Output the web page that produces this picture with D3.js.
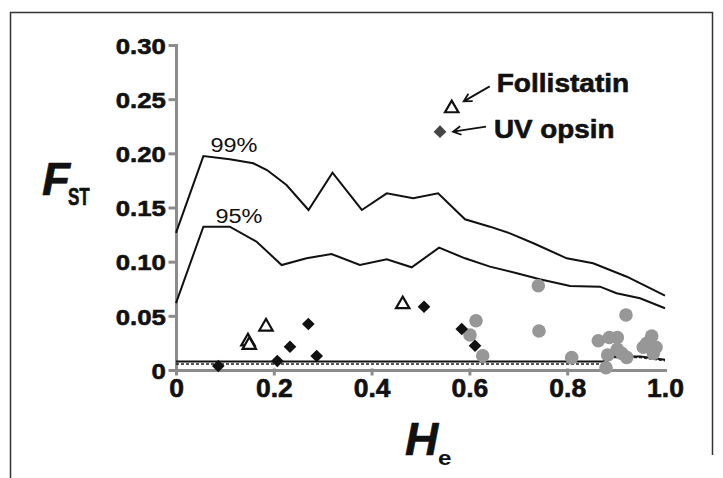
<!DOCTYPE html>
<html lang="en">
<head>
<meta charset="UTF-8">
<title>FST vs He</title>
<script src="https://d3js.org/d3.v7.min.js"></script>
<style>
  body { margin: 0; background: #fff; }
  text { font-family: "Liberation Sans", Arial, sans-serif; fill: #111; }
  .heavy { stroke: #111; stroke-width: 0.6px; }
</style>
</head>
<body>
<div id="chart"></div>
<script>
// ---- data: [He, FST] ----
// simulated upper envelopes
var env99 = [[0,0.1265],[0.056,0.1975],[0.110,0.1945],[0.158,0.1908],[0.186,0.1846],[0.226,0.1708],
    [0.271,0.1477],[0.320,0.1821],[0.380,0.1477],[0.431,0.1631],[0.485,0.1585],[0.536,0.1631],
    [0.591,0.1391],[0.642,0.1323],[0.683,0.1261],[0.731,0.1170],[0.799,0.1031],[0.853,0.0985],
    [0.922,0.0861],[1.0,0.0686]];
var env95 = [[0,0.0618],[0.056,0.1323],[0.110,0.1323],[0.165,0.1184],[0.216,0.0969],[0.267,0.1031],
    [0.318,0.1071],[0.376,0.0969],[0.431,0.1022],[0.482,0.0948],[0.538,0.1129],[0.591,0.1031],
    [0.642,0.0954],[0.697,0.0893],[0.744,0.0837],[0.806,0.0775],[0.867,0.0769],[0.901,0.0708],
    [0.949,0.0662],[1.0,0.0570]];
// lower envelopes
var envLowA = [[0,0.0078],[0.873,0.0078],[0.892,0.0125],[0.950,0.0125],[1.0,0.0095]];
var envLowB = [[0,0.0055],[0.873,0.0055],[0.892,0.0115],[0.950,0.0115],[1.0,0.0085]];

// loci
var diamonds = [[0.0865,0.0037],[0.2072,0.0083],[0.2331,0.0215],[0.2706,0.0425],[0.2877,0.0129],
    [0.5072,0.0584],[0.5843,0.0378],[0.6115,0.0224]];
var triangles = [[0.1472,0.0263],[0.1499,0.0231],[0.184,0.040],[0.4636,0.0606]];
var circles = [[0.6135,0.0455],[0.6012,0.0323],[0.6272,0.0132],[0.7409,0.0778],[0.7423,0.036],
    [0.8092,0.0114],[0.9202,0.0508],[0.8636,0.027],[0.8861,0.030],[0.9025,0.030],[0.8793,0.0021],
    [0.8828,0.0138],[0.9025,0.0191],[0.9115,0.0154],[0.9217,0.0117],[0.9728,0.0314],[0.9556,0.021],
    [0.9626,0.0246],[0.9816,0.021],[0.9761,0.0154]];
var uvOpsin = [0.5399,0.220];
var follistatin = [0.5638,0.2415];

var xTicks = [0,0.2,0.4,0.6,0.8,1.0];
var xTickLabels = ["0","0.2","0.4","0.6","0.8","1.0"];
var yTicks = [0,0.05,0.10,0.15,0.20,0.25,0.30];
var yTickLabels = ["0","0.05","0.10","0.15","0.20","0.25","0.30"];

// ---- layout ----
var W = 723, H = 478;
var svg = d3.select("#chart").append("svg")
    .attr("width", W).attr("height", H);

// frame
svg.append("path")
    .attr("d", "M10.5,478V12.5H712.5V455")
    .attr("fill", "none").attr("stroke", "#333").attr("stroke-width", 1.5);

var x = d3.scaleLinear().domain([0, 1]).range([176, 665]);
var y = d3.scaleLinear().domain([0, 0.30]).range([370, 45]);

var axisGrey = "#8c8c8c";

// y axis
var gy = svg.append("g")
    .attr("transform", "translate(176,0)")
    .call(d3.axisLeft(y).tickValues(yTicks).tickSize(6).tickSizeOuter(0)
        .tickFormat(function(d, i) { return yTickLabels[i]; }));
gy.selectAll("text")
    .attr("x", -9).attr("dy", "0.36em")
    .attr("transform", "scale(1.12,1)")
    .attr("class", "heavy")
    .style("font-size", "23px").style("font-weight", "bold");

// x axis
var gx = svg.append("g")
    .attr("transform", "translate(0,370)")
    .call(d3.axisBottom(x).tickValues(xTicks).tickSize(4).tickSizeOuter(0)
        .tickFormat(function(d, i) { return xTickLabels[i]; }));
gx.selectAll("text")
    .attr("y", 27).attr("dy", 0)
    .attr("transform", "scale(1.06,1)")
    .attr("class", "heavy")
    .style("font-size", "25px").style("font-weight", "bold");
gx.selectAll(".tick line").filter(function(d) { return d === 1; }).remove();

svg.selectAll(".domain, .tick line")
    .attr("stroke", axisGrey).attr("stroke-width", 3).attr("stroke-linecap", "square");
svg.selectAll(".tick text").attr("fill", "#111");

// envelope lines
var line = d3.line()
    .x(function(d) { return x(d[0]); })
    .y(function(d) { return y(d[1]); });

[env99, env95, envLowA].forEach(function(d) {
    svg.append("path").datum(d)
        .attr("fill", "none").attr("stroke", "#111").attr("stroke-width", 2)
        .attr("d", line);
});
svg.append("path").datum(envLowB)
    .attr("fill", "none").attr("stroke", "#222").attr("stroke-width", 1.5)
    .attr("stroke-dasharray", "3,2")
    .attr("d", line);

// gray circles
svg.selectAll(".circ").data(circles).enter().append("circle")
    .attr("cx", function(d) { return x(d[0]); })
    .attr("cy", function(d) { return y(d[1]); })
    .attr("r", 6.8)
    .attr("fill", "#979797");

// diamonds
var diamond = d3.symbol().type(d3.symbolSquare).size(80);
svg.selectAll(".dia").data(diamonds).enter().append("path")
    .attr("d", diamond)
    .attr("transform", function(d) { return "translate(" + x(d[0]) + "," + y(d[1]) + ") rotate(45)"; })
    .attr("fill", "#111");
svg.append("path")
    .attr("d", diamond)
    .attr("transform", "translate(" + x(uvOpsin[0]) + "," + y(uvOpsin[1]) + ") rotate(45)")
    .attr("fill", "#444");

// open triangles
var tri = d3.symbol().type(d3.symbolTriangle).size(78);
svg.selectAll(".tri").data(triangles.concat([follistatin])).enter().append("path")
    .attr("d", tri)
    .attr("transform", function(d) { return "translate(" + x(d[0]) + "," + y(d[1]) + ")"; })
    .attr("fill", "#fff").attr("stroke", "#111").attr("stroke-width", 2.2);

// percentile labels
svg.append("text")
    .attr("transform", "translate(" + (x(env99[1][0]) + 7) + "," + (y(env99[1][1]) - 4) + ") scale(1.12,1)")
    .style("font-size", "21px")
    .text("99%");
svg.append("text")
    .attr("transform", "translate(" + (x(env95[1][0]) + 12) + "," + (y(env95[1][1]) - 4) + ") scale(1.12,1)")
    .style("font-size", "21px")
    .text("95%");

// gene callouts
function arrow(x1, y1, x2, y2) {
    var a = Math.atan2(y2 - y1, x2 - x1), L = 9, s = 0.5;
    var p = "M" + x1 + "," + y1 + "L" + x2 + "," + y2 +
        "M" + (x2 - L * Math.cos(a - s)) + "," + (y2 - L * Math.sin(a - s)) +
        "L" + x2 + "," + y2 +
        "L" + (x2 - L * Math.cos(a + s)) + "," + (y2 - L * Math.sin(a + s));
    svg.append("path").attr("d", p)
        .attr("fill", "none").attr("stroke", "#111").attr("stroke-width", 1.8);
}
var fx = x(follistatin[0]), fy = y(follistatin[1]);
arrow(fx + 38, fy - 22, fx + 12, fy - 7);
svg.append("text")
    .attr("transform", "translate(" + (fx + 45) + "," + (fy - 16.5) + ") scale(1.08,1)")
    .attr("class", "heavy")
    .style("font-size", "26px").style("font-weight", "bold")
    .text("Follistatin");

var ux = x(uvOpsin[0]), uy = y(uvOpsin[1]);
arrow(ux + 46, uy - 5, ux + 13, uy);
svg.append("text")
    .attr("transform", "translate(" + (ux + 54) + "," + (uy + 6) + ") scale(1.07,1)")
    .attr("class", "heavy")
    .style("font-size", "26px").style("font-weight", "bold")
    .text("UV opsin");

// axis titles
svg.append("text").attr("x", 42).attr("y", 195)
    .attr("class", "heavy")
    .style("font-size", "46px").style("font-weight", "bold").style("font-style", "italic")
    .text("F");
svg.append("text")
    .attr("transform", "translate(68,205) scale(0.74,1)")
    .attr("class", "heavy")
    .style("font-size", "23px").style("font-weight", "bold")
    .text("ST");

svg.append("text").attr("x", 405).attr("y", 455)
    .attr("class", "heavy")
    .style("font-size", "46px").style("font-weight", "bold").style("font-style", "italic")
    .text("H");
svg.append("text")
    .attr("transform", "translate(438,465) scale(1.15,1)")
    .style("font-size", "21px").style("font-weight", "bold")
    .text("e");
</script>
</body>
</html>
